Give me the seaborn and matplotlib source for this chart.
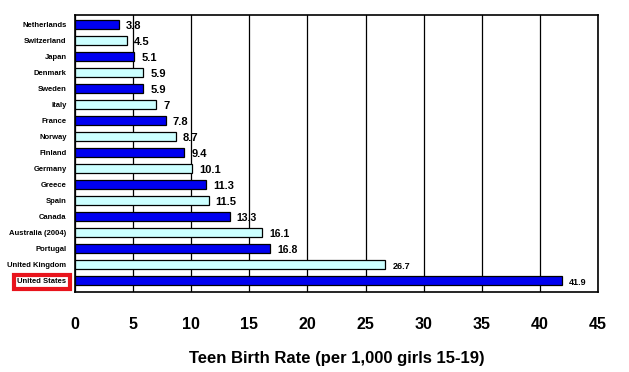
import matplotlib
matplotlib.use("Agg")
import matplotlib.pyplot as plt
import seaborn as sns
import pandas as pd

countries = ["Netherlands", "Switzerland", "Japan", "Denmark", "Sweden", "Italy", "France",
             "Norway", "Finland", "Germany", "Greece", "Spain", "Canada", "Australia (2004)",
             "Portugal", "United Kingdom", "United States"]
rates = [3.8, 4.5, 5.1, 5.9, 5.9, 7, 7.8, 8.7, 9.4, 10.1, 11.3, 11.5, 13.3, 16.1, 16.8, 26.7, 41.9]
value_labels = ["3.8", "4.5", "5.1", "5.9", "5.9", "7", "7.8", "8.7", "9.4", "10.1", "11.3",
                "11.5", "13.3", "16.1", "16.8", "26.7", "41.9"]
xticks = [0, 5, 10, 15, 20, 25, 30, 35, 40, 45]

df = pd.DataFrame({"country": countries, "rate": rates})
dark = "#0000f0"
light = "#ccffff"
palette = {c: (dark if i % 2 == 0 else light) for i, c in enumerate(countries)}

sns.set_style("white")
plt.rcParams['font.family'] = ['Liberation Sans', 'DejaVu Sans']
plt.rcParams['text.color'] = 'black'
plt.rcParams['xtick.color'] = 'black'
plt.rcParams['ytick.color'] = 'black'
plt.rcParams['axes.labelcolor'] = 'black'

fig = plt.figure(figsize=(6.29, 3.72), dpi=100)
ax = fig.add_axes([0.119, 0.215, 0.832, 0.745])

sns.barplot(data=df, x="rate", y="country", hue="country", palette=palette, legend=False,
            orient="h", width=0.55, saturation=1, edgecolor="black", linewidth=0.9, ax=ax, zorder=3)

ax.set_xlim(0, 45)
ax.set_ylim(len(countries) - 0.3, -0.6)
ax.set_xticks(xticks)
ax.set_xticklabels([str(t) for t in xticks], fontsize=11.5, fontweight="bold")
ax.tick_params(axis="x", length=4, width=1, direction="out", pad=14, colors="black")
ax.tick_params(axis="y", length=3, width=0.8, direction="out", colors="black", pad=3)
for lbl in ax.get_yticklabels():
    lbl.set_fontsize(5.5)
    lbl.set_fontweight("bold")
    lbl.set_color("black")
ax.grid(axis="x", color="black", linewidth=0.9, zorder=0)
ax.set_axisbelow(True)
for s in ax.spines.values():
    s.set_color("black")
    s.set_linewidth(1.2)
    s.set_visible(True)

ax.set_ylabel("")
ax.set_xlabel("Teen Birth Rate (per 1,000 girls 15-19)", fontsize=12, fontweight="bold",
              labelpad=14, color="black")

for i, (r, t) in enumerate(zip(rates, value_labels)):
    if r < 13:
        fs = 8
    elif r < 20:
        fs = 7.5
    else:
        fs = 6.5
    ax.text(r + 0.6, i + 0.08, t, va="center", ha="left", fontsize=fs,
            fontweight="bold", color="black", zorder=4)

us = ax.get_yticklabels()[-1]
us.set_bbox(dict(facecolor="white", edgecolor="#e8141c", linewidth=3, pad=2.5))

fig.savefig("out.png", dpi=100)
